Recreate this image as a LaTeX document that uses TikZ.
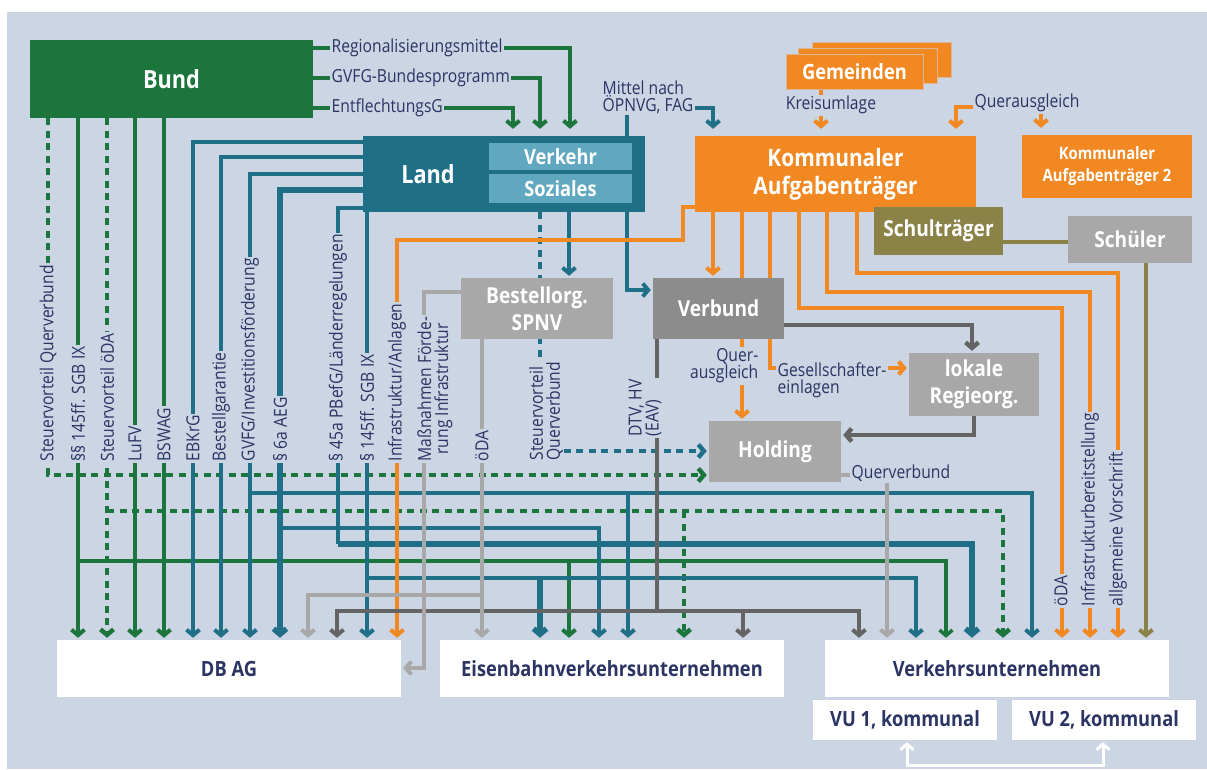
\documentclass[tikz,border=0pt]{standalone}
\usepackage{fontspec}
\setmainfont{Open Sans}[FakeStretch=0.87]
\usetikzlibrary{arrows.meta}
\definecolor{bg}{RGB}{203,213,227}
\definecolor{gruen}{RGB}{27,117,60}
\definecolor{petrol}{RGB}{31,112,135}
\definecolor{petrolhell}{RGB}{96,168,192}
\definecolor{kommorange}{RGB}{242,136,34}
\definecolor{dunkelgrau}{RGB}{100,100,100}
\definecolor{hellgrau}{RGB}{168,168,168}
\definecolor{verbundgrau}{RGB}{140,140,140}
\definecolor{oliv}{RGB}{139,130,72}
\definecolor{schrift}{RGB}{43,52,98}
\pgfdeclarelayer{hinten}
\pgfsetlayers{hinten,main}
\tikzset{
    box/.style={rectangle, inner sep=0, text=white, align=center, font=\bfseries\fontsize{22}{27}\selectfont},
    ziel/.style={box, fill=white, text=schrift, minimum width=344pt, minimum height=57pt, font=\bfseries\fontsize{21}{24}\selectfont},
    lbl/.style={fill=bg, text=schrift, inner sep=1.5pt, font=\fontsize{18}{17}\selectfont},
    vlbl/.style={lbl, rotate=90, anchor=west},
    gl/.style={draw=gruen, line width=4pt},
    gld/.style={gl, line width=4.5pt, dash pattern=on 7pt off 5.5pt},
    pl/.style={draw=petrol, line width=4pt},
    plb/.style={pl, line width=5.5pt},
    pld/.style={pl, line width=4.5pt, dash pattern=on 7pt off 5.5pt},
    ol/.style={draw=kommorange, line width=4pt},
    dgl/.style={draw=dunkelgrau, line width=4pt},
    hgl/.style={draw=hellgrau, line width=4pt},
    olivl/.style={draw=oliv, line width=4pt},
    pfeil/.style={->, shorten >=2pt},
    oben/.style={->, shorten >=7pt}
}
\begin{document}
\begin{tikzpicture}[x=1pt, y=-1pt, >={Straight Barb[length=5.5pt,width=13pt]}]
\useasboundingbox (0,0) rectangle (1207,769);

% Kaesten
\node[box, fill=gruen, minimum width=283pt, minimum height=78pt, font=\bfseries\fontsize{25}{27}\selectfont] (bund) at (171.5,79) {Bund};
\node[box, fill=petrol, minimum width=282pt, minimum height=76pt] (land) at (504,174) {};
\node[box, font=\bfseries\fontsize{25}{27}\selectfont] (landtext) at (428,174) {Land};
\node[box, fill=petrolhell, minimum width=143pt, minimum height=27pt, font=\bfseries\fontsize{21}{24}\selectfont] (verkehr) at (560.5,156.5) {Verkehr};
\node[box, fill=petrolhell, minimum width=143pt, minimum height=29pt, font=\bfseries\fontsize{21}{24}\selectfont] (soziales) at (560.5,188.5) {Soziales};
\node[box, fill=kommorange, minimum width=281pt, minimum height=76pt, font=\bfseries\fontsize{24}{28}\selectfont] (kommunal) at (835.5,174) {Kommunaler\\Aufgabenträger};
\node[box, fill=kommorange, draw=bg!60!kommorange, line width=1pt, minimum width=139pt, minimum height=35pt] (gem3) at (881.5,59.5) {};
\node[box, fill=kommorange, draw=bg!60!kommorange, line width=1pt, minimum width=139pt, minimum height=35pt] (gem2) at (867.5,65.5) {};
\node[box, fill=kommorange, draw=bg!60!kommorange, line width=1pt, minimum width=137pt, minimum height=35pt, font=\bfseries\fontsize{21}{24}\selectfont] (gemeinden) at (854.5,71.5) {Gemeinden};
\node[box, fill=kommorange, minimum width=170pt, minimum height=63pt, font=\bfseries\fontsize{17}{22}\selectfont] (komm2) at (1107,166.5) {Kommunaler\\Aufgabenträger 2};
\node[box, fill=oliv, minimum width=129pt, minimum height=48pt] (schultraeger) at (938.5,231) {Schulträger};
\node[box, fill=hellgrau, minimum width=124pt, minimum height=47pt] (schueler) at (1130,239.5) {Schüler};
\node[box, fill=hellgrau, minimum width=152pt, minimum height=61pt] (bestellorg) at (537,308.5) {Bestellorg.\\SPNV};
\node[box, fill=verbundgrau, minimum width=131pt, minimum height=61pt] (verbund) at (718.5,308.5) {Verbund};
\node[box, fill=hellgrau, minimum width=130pt, minimum height=63pt] (regie) at (974,384.5) {lokale\\Regieorg.};
\node[box, fill=hellgrau, minimum width=132pt, minimum height=61pt] (holding) at (775,451.5) {Holding};
\node[ziel] (dbag) at (229,668.5) {DB AG};
\node[ziel] (evu) at (612,668.5) {Eisenbahnverkehrsunternehmen};
\node[ziel] (vu) at (997,668.5) {Verkehrsunternehmen};
\node[ziel, minimum width=184pt, minimum height=40pt] (vu1) at (905,720) {VU 1, kommunal};
\node[ziel, minimum width=184pt, minimum height=40pt] (vu2) at (1104,720) {VU 2, kommunal};

% Beschriftungen waagerecht
\node[lbl, anchor=west] (regmittel) at (330,48) {Regionalisierungsmittel};
\node[lbl, anchor=west] (gvfgbund) at (330,78) {GVFG-Bundesprogramm};
\node[lbl, anchor=west] (entfl) at (330,108) {EntflechtungsG};
\node[lbl, anchor=west, align=left] (mittel) at (601,97) {Mittel nach\\ÖPNVG, FAG};
\node[lbl] (kreisumlage) at (831,105) {Kreisumlage};
\node[lbl] (querausgl) at (1027,103) {Querausgleich};
\node[lbl, anchor=east, align=right] (querausgl2) at (760,366) {Quer-\\ausgleich};
\node[lbl, anchor=west, align=left] (gesellsch) at (776,380) {Gesellschafter-\\einlagen};
\node[lbl, anchor=west] (querverbund) at (850,473) {Querverbund};

% Beschriftungen senkrecht
\node[vlbl] at (48,463) {Steuervorteil Querverbund};
\node[vlbl] at (78,463) {§§ 145ff. SGB IX};
\node[vlbl] at (107,463) {Steuervorteil öDA};
\node[vlbl] at (135,463) {LuFV};
\node[vlbl] at (164,463) {BSWAG};
\node[vlbl] at (193,463) {EBKrG};
\node[vlbl] at (221,463) {Bestellgarantie};
\node[vlbl] at (250,463) {GVFG/Investitionsförderung};
\node[vlbl] at (280,463) {§ 6a AEG};
\node[vlbl] at (338,463) {§ 45a PBefG/Länderregelungen};
\node[vlbl] at (367,463) {§ 145ff. SGB IX};
\node[vlbl] at (397,463) {Infrastruktur/Anlagen};
\node[vlbl, align=center] at (435,463) {Maßnahmen Förde-\\rung Infrastruktur};
\node[vlbl] at (482,463) {öDA};
\node[vlbl, align=left] at (546,462) {Steuervorteil\\Querverbund};
\node[vlbl, align=left] at (645,438) {DTV, HV\\(EAV)};
\node[vlbl] at (1061,608) {öDA};
\node[vlbl] at (1090,608) {Infrastrukturbereitstellung};
\node[vlbl] at (1118,608) {allgemeine Vorschrift};

\begin{pgfonlayer}{hinten}
\fill[bg] (7,12) rectangle (1207,769);
% Bund
\draw[gl, oben] (bund.east |- 0,48) -| (570,0 |- land.north);
\draw[gl, oben] (bund.east |- 0,78) -| (540,0 |- land.north);
\draw[gl, oben] (bund.east |- 0,108) -| (513,0 |- land.north);
\draw[gld, pfeil] (48,0 |- bund.south) |- (holding.west |- 0,475);
\draw[gl, pfeil] (78,0 |- bund.south) -- (78,0 |- dbag.north);
\draw[gl, line width=3.5pt, pfeil] (78,561) -| (946,0 |- vu.north);
\draw[gl, pfeil] (569,561) -- (569,0 |- evu.north);
\draw[gld, pfeil] (107,0 |- bund.south) -- (107,0 |- dbag.north);
\draw[gld, pfeil] (107,511) -| (1003,0 |- vu.north);
\draw[gld, pfeil] (684,511) -- (684,0 |- evu.north);
\draw[gl, pfeil] (135,0 |- bund.south) -- (135,0 |- dbag.north);
\draw[gl, pfeil] (164,0 |- bund.south) -- (164,0 |- dbag.north);
% Land
\draw[pl, pfeil] (land.west |- 0,142) -| (193,0 |- dbag.north);
\draw[pl, pfeil] (land.west |- 0,157) -| (221,0 |- dbag.north);
\draw[pl, pfeil] (land.west |- 0,174) -| (250,0 |- dbag.north);
\draw[pl, pfeil] (250,493) -| (1032,0 |- vu.north);
\draw[pl, pfeil] (628,493) -- (628,0 |- evu.north);
\draw[plb, pfeil] (land.west |- 0,190) -| (280,0 |- dbag.north);
\draw[pl, pfeil] (280,528) -| (599,0 |- evu.north);
\draw[pl] (land.west |- 0,208) -| (338,544);
\draw[plb, pfeil] (338,544) -| (972,0 |- vu.north);
\draw[pl, pfeil] (367,0 |- land.south) -- (367,0 |- dbag.north);
\draw[pl, pfeil] (367,578) -| (916,0 |- vu.north);
\draw[plb, pfeil] (540,578) -- (540,0 |- evu.north);
\draw[pld, pfeil] (540,0 |- land.south) |- (holding.west |- 0,451);
\draw[pl, pfeil] (569,0 |- land.south) -- (569,0 |- bestellorg.north);
\draw[pl, pfeil] (627,0 |- land.south) |- (verbund.west |- 0,290);
\draw[pl, oben] (627,0 |- land.north) |- (713,108) -- (713,0 |- kommunal.north);
% Kommunen
\draw[ol, oben] (821,0 |- gemeinden.south) -- (821,0 |- kommunal.north);
\draw[ol, <->, shorten <=7pt, shorten >=7pt] (956,0 |- kommunal.north) |- (1041,107) -- (1041,0 |- komm2.north);
\draw[ol, pfeil] (kommunal.west |- 0,207) -| (683,240) -| (397,0 |- dbag.north);
\draw[ol, pfeil] (713,0 |- kommunal.south) -- (713,0 |- verbund.north);
\draw[ol, pfeil] (742,0 |- kommunal.south) -- (742,0 |- holding.north);
\draw[ol, pfeil] (770,0 |- kommunal.south) |- (regie.west |- 0,368);
\draw[ol, pfeil] (799,0 |- kommunal.south) |- (1062,308) -- (1062,0 |- vu.north);
\draw[ol, pfeil] (827,0 |- kommunal.south) |- (1090,292) -- (1090,0 |- vu.north);
\draw[ol, pfeil] (857,0 |- kommunal.south) |- (1118,273) -- (1118,0 |- vu.north);
\draw[olivl] (schultraeger.east |- 0,242) -- (schueler.west |- 0,242);
\draw[olivl, pfeil] (1146,0 |- schueler.south) -- (1146,0 |- vu.north);
% Verbund, Regie, Holding
\draw[dgl, line width=4.5pt, pfeil] (verbund.east |- 0,325) -| (972,0 |- regie.north);
\draw[dgl, line width=4.5pt, pfeil] (regie.south) |- (holding.east |- 0,435);
\draw[dgl] (657,0 |- verbund.south) -- (657,611);
\draw[dgl, <->, shorten <=2pt, shorten >=2pt] (337,0 |- dbag.north) |- (859,611) -- (859,0 |- vu.north);
\draw[dgl, pfeil] (743,611) -- (743,0 |- evu.north);
% Bestellorg.
\draw[hgl, pfeil] (bestellorg.west |- 0,292) -| (424,668) -- (dbag.east |- 0,668);
\draw[hgl, pfeil] (482,0 |- bestellorg.south) -- (482,0 |- evu.north);
\draw[hgl, pfeil] (482,595) -| (308,0 |- dbag.north);
\draw[hgl, pfeil] (holding.east |- 0,475) -| (887,0 |- vu.north);
% VU
\draw[white, line width=3pt, <->, shorten <=2pt, shorten >=2pt] (907,0 |- vu1.south) |- (1103,765) -- (1103,0 |- vu2.south);
\end{pgfonlayer}
\end{tikzpicture}
\end{document}
